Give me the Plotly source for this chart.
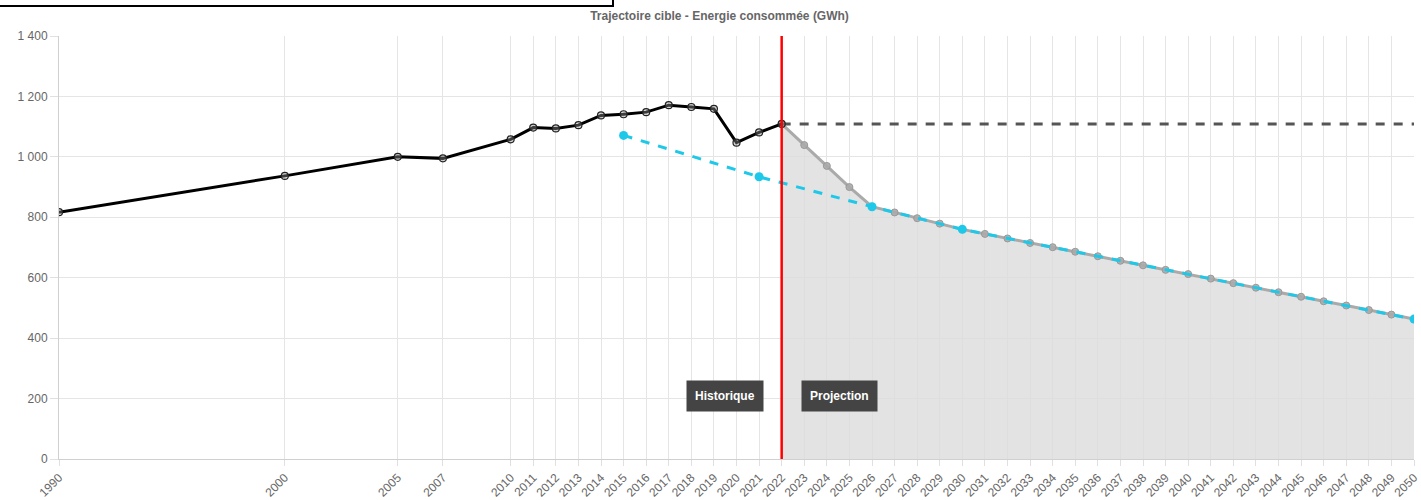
import plotly.graph_objects as go

# Historical consumption (GWh)
hist_years = [1990, 2000, 2005, 2007, 2010, 2011, 2012, 2013, 2014, 2015, 2016,
              2017, 2018, 2019, 2020, 2021, 2022]
hist_vals = [817, 937, 1000, 995, 1058, 1097, 1094, 1105, 1137, 1141, 1148,
             1171, 1165, 1159, 1047, 1081, 1109]

# Projection (GWh)
proj_years = list(range(2022, 2051))
proj_vals = [1109, 1039, 970, 900, 835, 816, 797, 779, 760, 745, 730, 715, 701,
             686, 671, 656, 641, 626, 612, 597, 582, 567, 552, 537, 522, 508,
             493, 478, 463]

# Target trajectory
target_years = [2015, 2021, 2026, 2030, 2050]
target_vals = [1071, 934, 835, 760, 463]

# Trend (flat)
flat_years = [2022, 2050]
flat_vals = [1109, 1109]

tick_years = [1990, 2000, 2005, 2007] + list(range(2010, 2051))
tick_text = [str(y) for y in tick_years]

split_year = 2022

fig = go.Figure()

fig.add_trace(go.Scatter(
    x=proj_years, y=proj_vals, mode="lines+markers", fill="tozeroy",
    fillcolor="rgba(220,220,220,0.8)",
    line=dict(color="#aaaaaa", width=3),
    marker=dict(size=7, color="rgba(170,170,170,0.9)",
                line=dict(color="#999999", width=1)),
    showlegend=False, hoverinfo="x+y"))

fig.add_trace(go.Scatter(
    x=flat_years, y=flat_vals, mode="lines",
    line=dict(color="#555555", width=3, dash="dash"),
    showlegend=False))

fig.add_trace(go.Scatter(
    x=target_years, y=target_vals, mode="lines+markers",
    line=dict(color="#1ec8e8", width=3, dash="dash"),
    marker=dict(size=9, color="#1ec8e8"),
    showlegend=False))

fig.add_trace(go.Scatter(
    x=hist_years, y=hist_vals, mode="lines+markers",
    line=dict(color="#000000", width=3),
    marker=dict(size=7, color="rgba(150,150,150,0.4)",
                line=dict(color="#222222", width=1.2)),
    showlegend=False))

fig.add_shape(type="line", xref="x", yref="paper", x0=split_year, x1=split_year,
              y0=0, y1=1, line=dict(color="#ff0000", width=2.5))

# clipped box at top-left
fig.add_shape(type="rect", xref="paper", yref="paper",
              x0=(-3 - 59) / 1355, x1=(613 - 59) / 1355,
              y0=1 + (36 - 6) / 423, y1=1 + (36 + 20) / 423,
              line=dict(color="#000000", width=2), fillcolor="rgba(0,0,0,0)")

for txt, anchor, shift in [("Historique", "right", -18), ("Projection", "left", 19)]:
    fig.add_annotation(x=split_year, y=210, xref="x", yref="y", text="<b>" + txt + "</b>",
                       showarrow=False, xanchor=anchor, xshift=shift,
                       font=dict(color="white", size=12, family="Liberation Sans"),
                       bgcolor="#444444", borderpad=8)

fig.update_layout(
    width=1421, height=500,
    margin=dict(l=59, r=7, t=36, b=41, autoexpand=False),
    paper_bgcolor="white", plot_bgcolor="white",
    separators=", ",
    font=dict(family="Liberation Sans", color="#666666", size=12),
    title=dict(text="<b>Trajectoire cible - Energie consommée (GWh)</b>",
               x=719.5 / 1421, xanchor="center", y=1 - 16 / 500, yanchor="middle",
               font=dict(size=12, color="#666666", family="Liberation Sans")),
    xaxis=dict(range=[1990, 2050], tickmode="array", tickvals=tick_years,
               ticktext=tick_text, tickangle=-45, showgrid=True, automargin=False,
               gridcolor="#e5e5e5", gridwidth=1, zeroline=False,
               showline=True, linecolor="#d0d0d0", linewidth=1,
               ticks="outside", ticklen=6, tickcolor="#e0e0e0",
               tickfont=dict(size=12, color="#666666")),
    yaxis=dict(range=[0, 1400], dtick=200, showgrid=True, gridcolor="#e5e5e5",
               automargin=False, separatethousands=True,
               zeroline=False, showline=True, linecolor="#d0d0d0", linewidth=1,
               ticks="outside", ticklen=8, tickcolor="#e0e0e0",
               tickfont=dict(size=12, color="#666666")),
)

fig.write_html("out.html", config={"displayModeBar": False},
               post_script="document.body.style.margin='0px';"
                           "document.body.style.overflow='hidden';")
